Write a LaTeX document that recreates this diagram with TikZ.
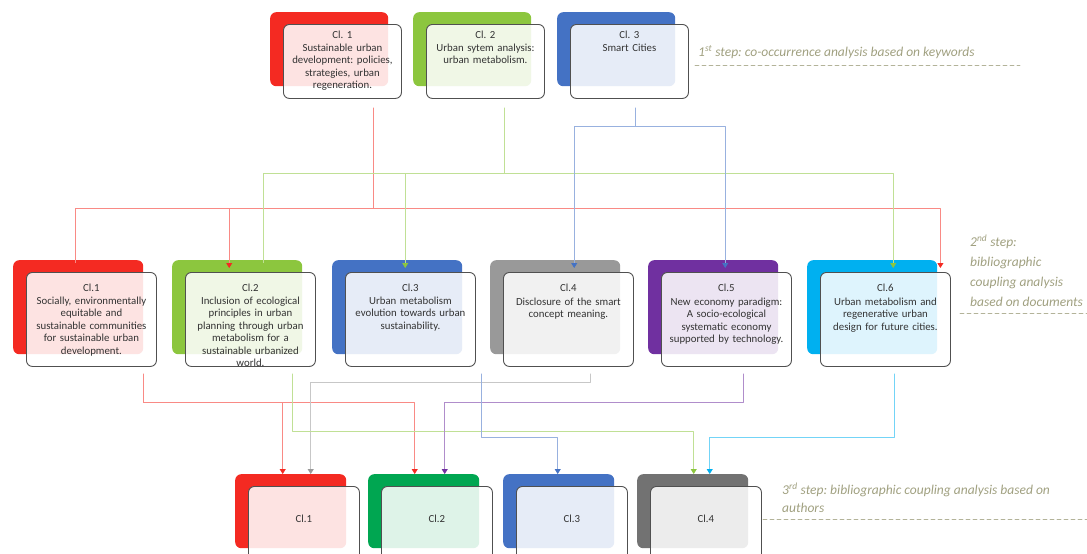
\documentclass[tikz,border=0pt]{standalone}
\usepackage{fontspec}
\setmainfont{Carlito}
\frenchspacing
\usetikzlibrary{arrows.meta}
\definecolor{clred}{HTML}{F42A22}
\definecolor{clgreen}{HTML}{8CC63E}
\definecolor{cldkgreen}{HTML}{00A651}
\definecolor{clblue}{HTML}{4472C4}
\definecolor{clgray}{HTML}{999999}
\definecolor{cldkgray}{HTML}{727272}
\definecolor{clpurple}{HTML}{7030A0}
\definecolor{clcyan}{HTML}{00B0F0}
\definecolor{stepgray}{HTML}{A0A080}
\definecolor{boxline}{HTML}{505050}
\tikzset{
  backbox/.style={rounded corners=6pt, anchor=north west, inner sep=0pt},
  frontbox/.style={rounded corners=6pt, anchor=north west, inner sep=0pt, draw=boxline, line width=0.9pt, fill=white, fill opacity=0.87},
  top box/.style={minimum width=118pt, minimum height=74pt},
  mid box/.style={minimum width=130pt, minimum height=94pt},
  bot box/.style={minimum width=111pt, minimum height=74pt},
  top text/.style={yshift=-3pt},
  mid text/.style={yshift=-8pt},
  bot text/.style={yshift=-25pt},
  cardtext/.style={anchor=north, align=center, text width=150pt, text=black!80, font=\fontsize{10.8}{12.4}\selectfont},
  link/.style={line width=0.8pt, draw=#1!55, -{Triangle[width=6pt, length=5pt, color=#1]}},
  steptext/.style={align=left, text=stepgray, inner sep=0pt, font=\fontsize{13.5}{20}\selectfont\itshape},
  stepline/.style={draw=stepgray!80, line width=0.8pt, dash pattern=on 4pt off 3pt}
}
% card: level, name, position, colour, text
\newcommand{\clcard}[5]{%
  \node[backbox, #1 box, fill=#4] (#2b) at (#3) {};
  \node[frontbox, #1 box] (#2) at ([shift={(13,12)}]#2b.north west) {};
  \node[cardtext, #1 text] (#2t) at (#2.north) {#5};
}
\begin{document}
\begin{tikzpicture}[x=1pt, y=-1pt, line cap=round, line join=round]
\useasboundingbox (0,0) rectangle (1087,554);
% 1st step
\clcard{top}{t1}{270,12}{clred}{Cl. 1\\[1pt]Sustainable urban\\development: policies,\\strategies, urban\\regeneration.}
\clcard{top}{t2}{413,12}{clgreen}{Cl. 2\\[1pt]Urban sytem analysis:\\urban metabolism.}
\clcard{top}{t3}{557,12}{clblue}{Cl. 3\\[1pt]Smart Cities}
% 2nd step
\clcard{mid}{m1}{13,260}{clred}{Cl.1\\[1pt]Socially, environmentally\\equitable and\\sustainable communities\\for sustainable urban\\development.}
\clcard{mid}{m2}{172,260}{clgreen}{Cl.2\\[1pt]Inclusion of ecological\\principles in urban\\planning through urban\\metabolism for a\\sustainable urbanized\\world.}
\clcard{mid}{m3}{332,260}{clblue}{Cl.3\\[1pt]Urban metabolism\\evolution towards urban\\sustainability.}
\clcard{mid}{m4}{490,260}{clgray}{\\[-4pt]Cl.4\\[1pt]Disclosure of the smart\\concept meaning.}
\clcard{mid}{m5}{648,260}{clpurple}{\\[-4pt]Cl.5\\[1pt]New economy paradigm:\\A socio-ecological\\systematic economy\\supported by technology.}
\clcard{mid}{m6}{807,260}{clcyan}{\\[-4pt]Cl.6\\[1pt]Urban metabolism and\\regenerative urban\\design for future cities.}
% 3rd step
\clcard{bot}{b1}{235,474}{clred}{Cl.1}
\clcard{bot}{b2}{368,474}{cldkgreen}{Cl.2}
\clcard{bot}{b3}{503,474}{clblue}{Cl.3}
\clcard{bot}{b4}{637,474}{cldkgray}{Cl.4}

% links 1st -> 2nd step
\draw[link=clred] ([xshift=31,yshift=-9]t1.south) -- ++(0,100) coordinate (rj) -| ([xshift=3,yshift=-8]m6b.north east);
\draw[link=clred] (rj) -| ([xshift=-3,yshift=-8]m1b.north);
\draw[link=clred] (rj) -| ([xshift=-8,yshift=-8]m2b.north);
\draw[link=clgreen] ([xshift=19,yshift=-9]t2.south) -- ++(0,65) coordinate (gj) -| ([xshift=21,yshift=-8]m6b.north);
\draw[link=clgreen] (gj) -| ([xshift=26,yshift=-8]m2b.north);
\draw[link=clgreen] (gj) -| ([xshift=8,yshift=-8]m3b.north);
\draw[link=clblue] ([xshift=6,yshift=-9]t3.south) -- ++(0,18) coordinate (bj) -| ([xshift=12,yshift=-8]m5b.north);
\draw[link=clblue] (bj) -| ([xshift=19,yshift=-8]m4b.north);

% links 2nd -> 3rd step
\draw[link=clred] ([xshift=52,yshift=-7]m1.south) -- ++(0,28) coordinate (rk) -| ([xshift=-9]b2b.north);
\draw[link=clred] (rk) -| ([xshift=-8]b1b.north);
\draw[link=clgray] ([xshift=22,yshift=-7]m4.south) -- ++(0,8) -| ([xshift=20]b1b.north);
\draw[link=clgreen] ([xshift=42,yshift=-7]m2.south) -- ++(0,57) -| ([xshift=1]b4b.north);
\draw[link=clpurple] ([xshift=17,yshift=-7]m5.south) -- ++(0,28) -| ([xshift=21]b2b.north);
\draw[link=clblue] ([xshift=71,yshift=-7]m3.south) -- ++(0,63) -| ([xshift=-1]b3b.north);
\draw[link=clcyan] ([xshift=9,yshift=-7]m6.south) -- ++(0,63) -| ([xshift=17]b4b.north);

% step labels
\node[steptext, anchor=west] (s1) at (698,52) {1\textsuperscript{st} step: co-occurrence analysis based on keywords};
\draw[stepline] ([xshift=-3,yshift=-7]s1.south west) -- ++(325,0);
\node[steptext, anchor=north west] (s2) at (970,235) {2\textsuperscript{nd} step:\\bibliographic\\coupling analysis\\based on documents};
\draw[stepline] ([xshift=-10,yshift=-6]s2.south west) -- ++(127,0);
\node[steptext, anchor=north west, font=\fontsize{13.5}{18}\selectfont\itshape] (s3) at (782,483) {3\textsuperscript{rd} step: bibliographic coupling analysis based on\\authors};
\draw[stepline] ([xshift=-19,yshift=-6]s3.south west) -- ++(324,0);
\end{tikzpicture}
\end{document}
